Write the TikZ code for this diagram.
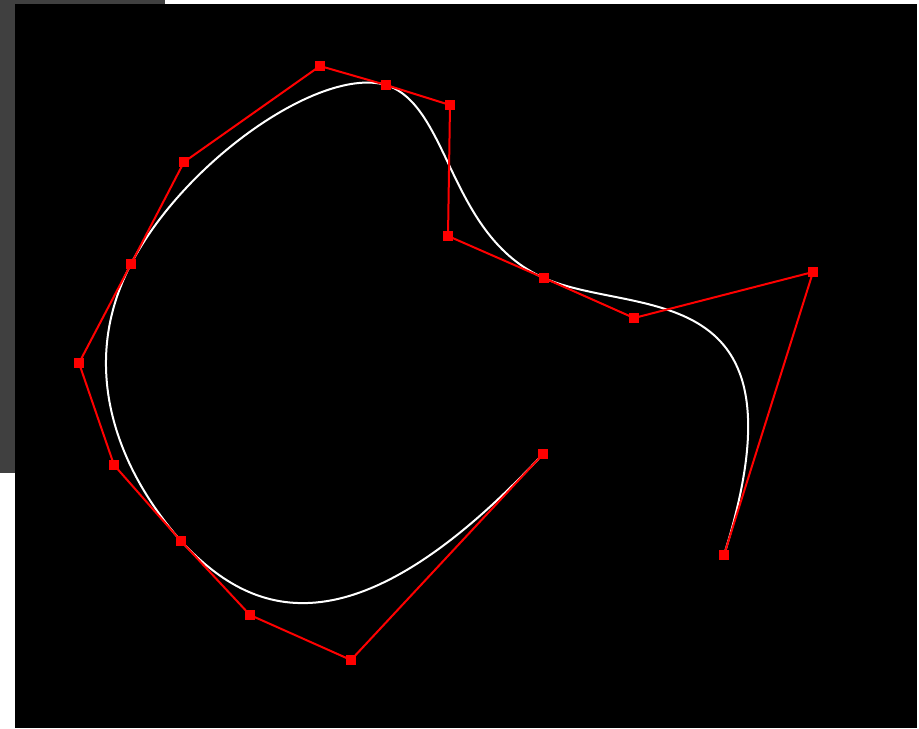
\documentclass[tikz,border=0pt]{standalone}
\usetikzlibrary{positioning}
\definecolor{panelgray}{HTML}{404040}
\definecolor{ctrlred}{HTML}{FF0000}

\begin{document}
\begin{tikzpicture}[
    x=0.75pt, y=-0.75pt,
    ctrl/.style={rectangle, fill=ctrlred, minimum size=8pt, inner sep=0pt},
    hull/.style={draw=ctrlred, line width=1.5pt},
    spline/.style={draw=white, line width=1.5pt}
]
    % window backdrop
    \fill[white] (0,0) rectangle (919,728);
    \fill[panelgray] (0,0) rectangle (15,473);
    \fill[panelgray] (0,0) rectangle (165,4);
    \fill[black] (15,4) rectangle (917,728);
    \useasboundingbox (0,0) rectangle (919,728);

    % control points
    \foreach \n/\px/\py in {0/543/454, 1/351/660, 2/250/615, 3/181/541,
                            4/114/465, 5/79/363, 6/131/264, 7/184/162,
                            8/320/66, 9/386/85, 10/450/105, 11/448/236,
                            12/544/278, 13/634/318, 14/813/272, 15/724/555}
        \coordinate (c\n) at (\px,\py);

    % piecewise cubic curve
    \draw[spline] (c0) .. controls (c1) and (c2) .. (c3)
                       .. controls (c4) and (c5) .. (c6)
                       .. controls (c7) and (c8) .. (c9)
                       .. controls (c10) and (c11) .. (c12)
                       .. controls (c13) and (c14) .. (c15);

    % control polygon
    \draw[hull] (c0) \foreach \n in {1,...,15} { -- (c\n) };

    \foreach \n in {0,...,15}
        \node[ctrl] (p\n) at (c\n) {};
\end{tikzpicture}
\end{document}
